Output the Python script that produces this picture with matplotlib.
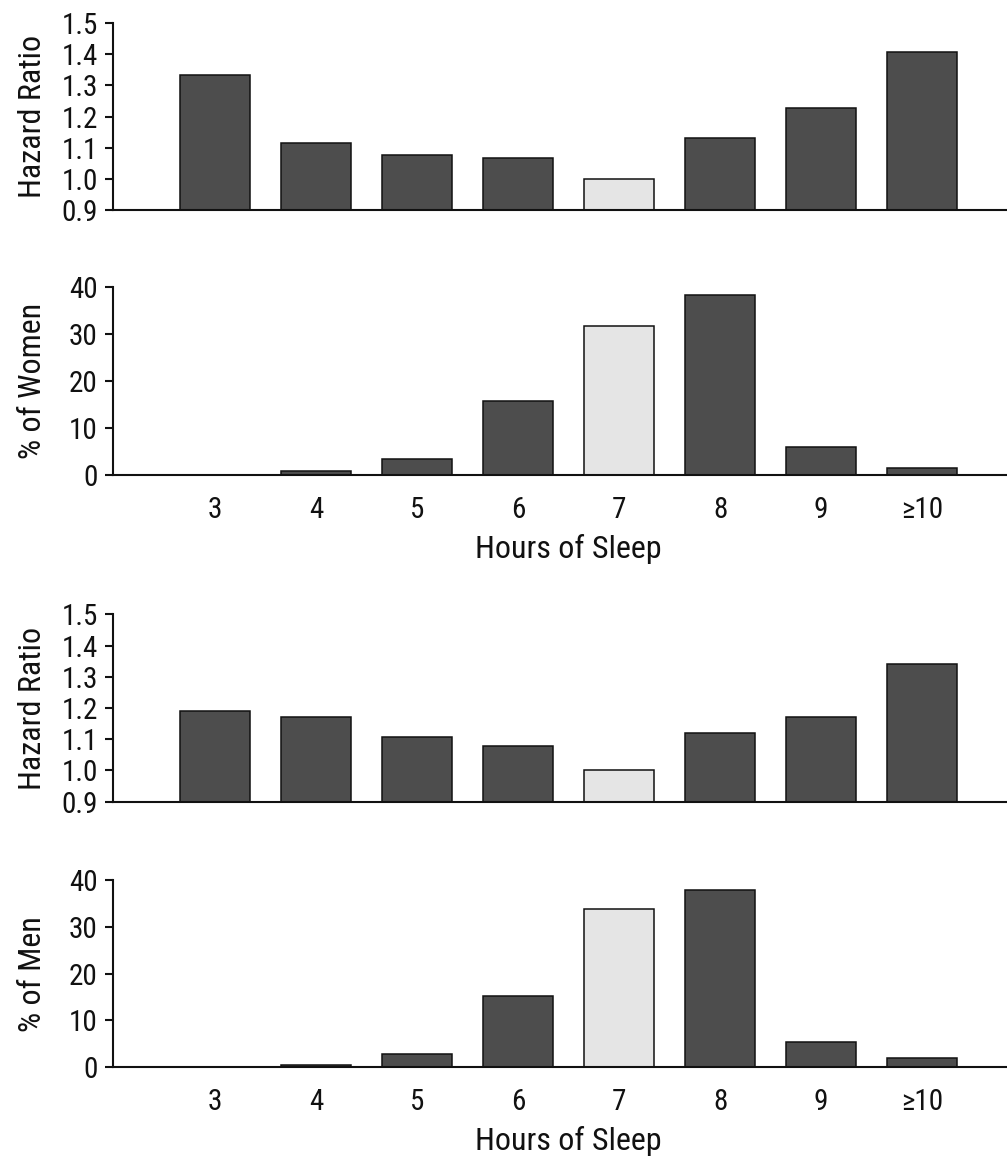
import matplotlib
matplotlib.use("Agg")
import matplotlib.pyplot as plt
from matplotlib.ticker import FormatStrFormatter

categories = ["3", "4", "5", "6", "7", "8", "9", "≥10"]
hr_women = [1.332, 1.114, 1.075, 1.068, 1.0, 1.13, 1.228, 1.408]
pct_women = [0.0, 0.8, 3.5, 15.7, 31.8, 38.4, 6.0, 1.4]
hr_men = [1.19, 1.17, 1.108, 1.078, 1.0, 1.12, 1.17, 1.341]
pct_men = [0.0, 0.5, 2.8, 15.2, 33.8, 37.9, 5.5, 2.0]
reference_category = "7"

DARK = "#4d4d4d"
LIGHT = "#e5e5e5"
INK = "#111111"

plt.rcParams['font.family'] = ['Roboto Condensed', 'DejaVu Sans']

W, H = 1007, 1161
fig = plt.figure(figsize=(W / 100, H / 100), dpi=100)

def axes_px(top, bottom, left=113, right=1007):
    return fig.add_axes([left / W, 1 - bottom / H, (right - left) / W, (bottom - top) / H])

panels = [
    (23, 210, hr_women, "Hazard Ratio", "hr", False),
    (287.3, 475, pct_women, "% of Women", "pct", True),
    (614.3, 801.7, hr_men, "Hazard Ratio", "hr", False),
    (880, 1067.3, pct_men, "% of Men", "pct", True),
]

x = list(range(len(categories)))
colors = [LIGHT if c == reference_category else DARK for c in categories]
FS_TICK = 21
FS_LABEL = 23

for top, bottom, vals, ylabel, kind, show_x in panels:
    ax = axes_px(top, bottom)
    ax.bar(x, vals, width=0.69, color=colors, edgecolor=INK, linewidth=1.1, zorder=2)
    ax.set_xlim(-1.01, 7.84)
    if kind == "hr":
        ax.set_ylim(0.9, 1.5)
        ax.set_yticks([0.9, 1.0, 1.1, 1.2, 1.3, 1.4, 1.5])
        ax.yaxis.set_major_formatter(FormatStrFormatter('%.1f'))
    else:
        ax.set_ylim(0, 40)
        ax.set_yticks([0, 10, 20, 30, 40])
    for s in ("top", "right"):
        ax.spines[s].set_visible(False)
    for s in ("left", "bottom"):
        ax.spines[s].set_linewidth(1.5)
        ax.spines[s].set_color(INK)
        ax.spines[s].set_zorder(3)
    ax.tick_params(axis='y', length=6, width=1.5, pad=5, labelsize=FS_TICK, colors=INK)
    ax.tick_params(axis='x', length=0, pad=15, labelsize=FS_TICK, colors=INK)
    ax.set_ylabel(ylabel, fontsize=FS_LABEL, color=INK)
    ax.yaxis.set_label_coords(-(113 - 47) / (1007 - 113), 0.5)
    if show_x:
        ax.set_xticks(x)
        ax.set_xticklabels(categories)
        ax.set_xlabel("Hours of Sleep", fontsize=FS_LABEL, color=INK)
        ax.xaxis.set_label_coords((568.5 - 113) / (1007 - 113), -0.315)
    else:
        ax.set_xticks([])

fig.savefig("out.png", dpi=100)
